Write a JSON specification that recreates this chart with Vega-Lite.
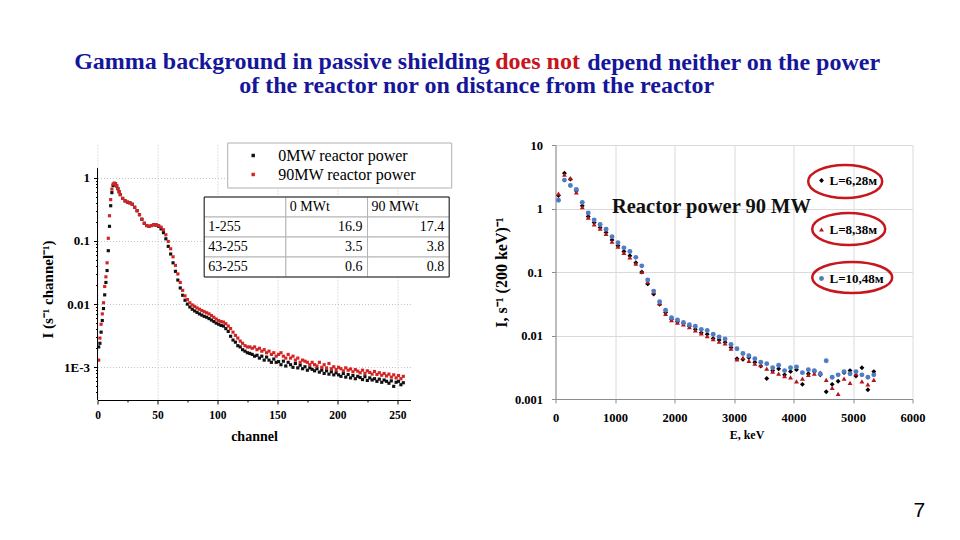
{
  "$schema": "https://vega.github.io/schema/vega-lite/v6.json",
  "background": "white",
  "padding": {"left": 40.5, "top": 49, "right": 0, "bottom": 0},
  "config": {"view": {"stroke": null}, "font": "Liberation Serif"},
  "datasets": {
    "left": [
      {"p":"0MW","ch":1,"v":0.0021},{"p":"0MW","ch":2,"v":0.0024},{"p":"0MW","ch":3,"v":0.0036},{"p":"0MW","ch":4,"v":0.0055},{"p":"0MW","ch":5,"v":0.0085},{"p":"0MW","ch":6,"v":0.014},{"p":"0MW","ch":7,"v":0.022},{"p":"0MW","ch":8,"v":0.034},{"p":"0MW","ch":9,"v":0.07},{"p":"0MW","ch":10,"v":0.17},{"p":"0MW","ch":11,"v":0.36},{"p":"0MW","ch":12,"v":0.58},{"p":"0MW","ch":13,"v":0.75},{"p":"0MW","ch":14,"v":0.81},{"p":"0MW","ch":15,"v":0.8},{"p":"0MW","ch":16,"v":0.74},{"p":"0MW","ch":17,"v":0.67},{"p":"0MW","ch":18,"v":0.6},{"p":"0MW","ch":19,"v":0.54},
      {"p":"0MW","ch":21,"v":0.47},{"p":"0MW","ch":23,"v":0.43},{"p":"0MW","ch":25,"v":0.41},{"p":"0MW","ch":27,"v":0.4},{"p":"0MW","ch":29,"v":0.38},{"p":"0MW","ch":31,"v":0.34},{"p":"0MW","ch":33,"v":0.3},{"p":"0MW","ch":35,"v":0.26},{"p":"0MW","ch":37,"v":0.22},{"p":"0MW","ch":39,"v":0.19},{"p":"0MW","ch":41,"v":0.175},{"p":"0MW","ch":43,"v":0.17},{"p":"0MW","ch":45,"v":0.175},{"p":"0MW","ch":47,"v":0.18},{"p":"0MW","ch":49,"v":0.178},{"p":"0MW","ch":51,"v":0.17},{"p":"0MW","ch":53,"v":0.155},{"p":"0MW","ch":55,"v":0.135},{"p":"0MW","ch":57,"v":0.108},{"p":"0MW","ch":59,"v":0.082},{"p":"0MW","ch":61,"v":0.062},{"p":"0MW","ch":63,"v":0.045},{"p":"0MW","ch":65,"v":0.033},{"p":"0MW","ch":67,"v":0.024},{"p":"0MW","ch":69,"v":0.018},{"p":"0MW","ch":71,"v":0.0138},{"p":"0MW","ch":73,"v":0.0115},{"p":"0MW","ch":75,"v":0.01},{"p":"0MW","ch":77,"v":0.009},{"p":"0MW","ch":79,"v":0.0083},{"p":"0MW","ch":81,"v":0.0078},{"p":"0MW","ch":83,"v":0.0074},{"p":"0MW","ch":85,"v":0.007},{"p":"0MW","ch":87,"v":0.0067},{"p":"0MW","ch":89,"v":0.0064},{"p":"0MW","ch":91,"v":0.0062},{"p":"0MW","ch":93,"v":0.0059},{"p":"0MW","ch":95,"v":0.0056},{"p":"0MW","ch":97,"v":0.0053},{"p":"0MW","ch":99,"v":0.005},{"p":"0MW","ch":101,"v":0.0048},{"p":"0MW","ch":103,"v":0.0046},{"p":"0MW","ch":105,"v":0.0045},{"p":"0MW","ch":107,"v":0.0041},{"p":"0MW","ch":109,"v":0.0037},{"p":"0MW","ch":111,"v":0.0031},{"p":"0MW","ch":113,"v":0.0027},{"p":"0MW","ch":115,"v":0.0025},{"p":"0MW","ch":117,"v":0.0022},{"p":"0MW","ch":119,"v":0.0021},{"p":"0MW","ch":121,"v":0.0019},{"p":"0MW","ch":123,"v":0.0018},{"p":"0MW","ch":125,"v":0.0017},
      {"p":"0MW","ch":127,"v":0.00166},{"p":"0MW","ch":129,"v":0.0016},{"p":"0MW","ch":131,"v":0.0015},{"p":"0MW","ch":133,"v":0.00155},{"p":"0MW","ch":135,"v":0.0014},{"p":"0MW","ch":137,"v":0.0015},{"p":"0MW","ch":139,"v":0.0013},{"p":"0MW","ch":141,"v":0.00145},{"p":"0MW","ch":143,"v":0.0013},{"p":"0MW","ch":145,"v":0.0012},{"p":"0MW","ch":147,"v":0.00135},{"p":"0MW","ch":149,"v":0.0012},{"p":"0MW","ch":151,"v":0.00123},{"p":"0MW","ch":153,"v":0.0011},{"p":"0MW","ch":155,"v":0.00125},{"p":"0MW","ch":157,"v":0.00105},{"p":"0MW","ch":159,"v":0.0012},{"p":"0MW","ch":161,"v":0.0011},{"p":"0MW","ch":163,"v":0.001},{"p":"0MW","ch":165,"v":0.00115},{"p":"0MW","ch":167,"v":0.00098},{"p":"0MW","ch":169,"v":0.00108},{"p":"0MW","ch":171,"v":0.00095},{"p":"0MW","ch":173,"v":0.00102},{"p":"0MW","ch":175,"v":0.0009},{"p":"0MW","ch":177,"v":0.00098},{"p":"0MW","ch":179,"v":0.00093},{"p":"0MW","ch":181,"v":0.00088},{"p":"0MW","ch":183,"v":0.00095},{"p":"0MW","ch":185,"v":0.00084},{"p":"0MW","ch":187,"v":0.0009},{"p":"0MW","ch":189,"v":0.0008},{"p":"0MW","ch":191,"v":0.00088},{"p":"0MW","ch":193,"v":0.00078},{"p":"0MW","ch":195,"v":0.00085},{"p":"0MW","ch":197,"v":0.00076},{"p":"0MW","ch":199,"v":0.00082},{"p":"0MW","ch":201,"v":0.00076},{"p":"0MW","ch":203,"v":0.00072},{"p":"0MW","ch":205,"v":0.0008},{"p":"0MW","ch":207,"v":0.0007},{"p":"0MW","ch":209,"v":0.00077},{"p":"0MW","ch":211,"v":0.00068},{"p":"0MW","ch":213,"v":0.00074},{"p":"0MW","ch":215,"v":0.00066},{"p":"0MW","ch":217,"v":0.00072},{"p":"0MW","ch":219,"v":0.00069},{"p":"0MW","ch":221,"v":0.00064},{"p":"0MW","ch":223,"v":0.00071},{"p":"0MW","ch":225,"v":0.00062},{"p":"0MW","ch":227,"v":0.00068},{"p":"0MW","ch":229,"v":0.00063},{"p":"0MW","ch":231,"v":0.00066},{"p":"0MW","ch":233,"v":0.0006},{"p":"0MW","ch":235,"v":0.00065},{"p":"0MW","ch":237,"v":0.00058},{"p":"0MW","ch":239,"v":0.00063},{"p":"0MW","ch":241,"v":0.0006},{"p":"0MW","ch":243,"v":0.00056},{"p":"0MW","ch":245,"v":0.00061},{"p":"0MW","ch":247,"v":0.0005},{"p":"0MW","ch":249,"v":0.00058},{"p":"0MW","ch":251,"v":0.0006},{"p":"0MW","ch":253,"v":0.00053},{"p":"0MW","ch":255,"v":0.00057},
      {"p":"90MW","ch":1,"v":0.0013},{"p":"90MW","ch":2,"v":0.0029},{"p":"90MW","ch":3,"v":0.0048},{"p":"90MW","ch":4,"v":0.007},{"p":"90MW","ch":5,"v":0.0105},{"p":"90MW","ch":6,"v":0.019},{"p":"90MW","ch":7,"v":0.027},{"p":"90MW","ch":8,"v":0.045},{"p":"90MW","ch":9,"v":0.11},{"p":"90MW","ch":10,"v":0.25},{"p":"90MW","ch":11,"v":0.45},{"p":"90MW","ch":12,"v":0.66},{"p":"90MW","ch":13,"v":0.79},{"p":"90MW","ch":14,"v":0.82},{"p":"90MW","ch":15,"v":0.8},{"p":"90MW","ch":16,"v":0.74},{"p":"90MW","ch":17,"v":0.67},{"p":"90MW","ch":18,"v":0.6},{"p":"90MW","ch":19,"v":0.54},
      {"p":"90MW","ch":21,"v":0.47},{"p":"90MW","ch":23,"v":0.43},{"p":"90MW","ch":25,"v":0.41},{"p":"90MW","ch":27,"v":0.4},{"p":"90MW","ch":29,"v":0.38},{"p":"90MW","ch":31,"v":0.34},{"p":"90MW","ch":33,"v":0.3},{"p":"90MW","ch":35,"v":0.26},{"p":"90MW","ch":37,"v":0.22},{"p":"90MW","ch":39,"v":0.19},{"p":"90MW","ch":41,"v":0.175},{"p":"90MW","ch":43,"v":0.17},{"p":"90MW","ch":45,"v":0.175},{"p":"90MW","ch":47,"v":0.18},{"p":"90MW","ch":49,"v":0.18},{"p":"90MW","ch":51,"v":0.175},{"p":"90MW","ch":53,"v":0.165},{"p":"90MW","ch":55,"v":0.15},{"p":"90MW","ch":57,"v":0.125},{"p":"90MW","ch":59,"v":0.098},{"p":"90MW","ch":61,"v":0.075},{"p":"90MW","ch":63,"v":0.056},{"p":"90MW","ch":65,"v":0.041},{"p":"90MW","ch":67,"v":0.03},{"p":"90MW","ch":69,"v":0.022},{"p":"90MW","ch":71,"v":0.0165},{"p":"90MW","ch":73,"v":0.0135},{"p":"90MW","ch":75,"v":0.0118},{"p":"90MW","ch":77,"v":0.0105},{"p":"90MW","ch":79,"v":0.0097},{"p":"90MW","ch":81,"v":0.0092},{"p":"90MW","ch":83,"v":0.0087},{"p":"90MW","ch":85,"v":0.0083},{"p":"90MW","ch":87,"v":0.0079},{"p":"90MW","ch":89,"v":0.0076},{"p":"90MW","ch":91,"v":0.0073},{"p":"90MW","ch":93,"v":0.007},{"p":"90MW","ch":95,"v":0.0066},{"p":"90MW","ch":97,"v":0.0062},{"p":"90MW","ch":99,"v":0.0058},{"p":"90MW","ch":101,"v":0.0055},{"p":"90MW","ch":103,"v":0.0053},{"p":"90MW","ch":105,"v":0.0052},{"p":"90MW","ch":107,"v":0.0049},{"p":"90MW","ch":109,"v":0.0045},{"p":"90MW","ch":111,"v":0.0041},{"p":"90MW","ch":113,"v":0.0036},{"p":"90MW","ch":115,"v":0.0032},{"p":"90MW","ch":117,"v":0.0029},{"p":"90MW","ch":119,"v":0.0026},{"p":"90MW","ch":121,"v":0.0024},{"p":"90MW","ch":123,"v":0.0022},{"p":"90MW","ch":125,"v":0.0021},
      {"p":"90MW","ch":127,"v":0.0021},{"p":"90MW","ch":129,"v":0.002},{"p":"90MW","ch":131,"v":0.0021},{"p":"90MW","ch":133,"v":0.0019},{"p":"90MW","ch":135,"v":0.002},{"p":"90MW","ch":137,"v":0.0018},{"p":"90MW","ch":139,"v":0.0019},{"p":"90MW","ch":141,"v":0.0017},{"p":"90MW","ch":143,"v":0.0018},{"p":"90MW","ch":145,"v":0.0016},{"p":"90MW","ch":147,"v":0.0017},{"p":"90MW","ch":149,"v":0.0015},{"p":"90MW","ch":151,"v":0.0016},{"p":"90MW","ch":153,"v":0.0017},{"p":"90MW","ch":155,"v":0.0015},{"p":"90MW","ch":157,"v":0.0014},{"p":"90MW","ch":159,"v":0.0016},{"p":"90MW","ch":161,"v":0.0014},{"p":"90MW","ch":163,"v":0.0015},{"p":"90MW","ch":165,"v":0.0013},{"p":"90MW","ch":167,"v":0.0014},{"p":"90MW","ch":169,"v":0.0012},{"p":"90MW","ch":171,"v":0.0013},{"p":"90MW","ch":173,"v":0.00125},{"p":"90MW","ch":175,"v":0.0012},{"p":"90MW","ch":177,"v":0.0011},{"p":"90MW","ch":179,"v":0.0012},{"p":"90MW","ch":181,"v":0.0011},{"p":"90MW","ch":183,"v":0.00105},{"p":"90MW","ch":185,"v":0.0012},{"p":"90MW","ch":187,"v":0.001},{"p":"90MW","ch":189,"v":0.0011},{"p":"90MW","ch":191,"v":0.00098},{"p":"90MW","ch":193,"v":0.00115},{"p":"90MW","ch":195,"v":0.00095},{"p":"90MW","ch":197,"v":0.00102},{"p":"90MW","ch":199,"v":0.00092},{"p":"90MW","ch":201,"v":0.001},{"p":"90MW","ch":203,"v":0.00095},{"p":"90MW","ch":205,"v":0.00088},{"p":"90MW","ch":207,"v":0.00098},{"p":"90MW","ch":209,"v":0.0009},{"p":"90MW","ch":211,"v":0.00094},{"p":"90MW","ch":213,"v":0.00085},{"p":"90MW","ch":215,"v":0.00092},{"p":"90MW","ch":217,"v":0.00087},{"p":"90MW","ch":219,"v":0.00082},{"p":"90MW","ch":221,"v":0.0009},{"p":"90MW","ch":223,"v":0.0008},{"p":"90MW","ch":225,"v":0.00088},{"p":"90MW","ch":227,"v":0.00083},{"p":"90MW","ch":229,"v":0.00078},{"p":"90MW","ch":231,"v":0.00086},{"p":"90MW","ch":233,"v":0.00077},{"p":"90MW","ch":235,"v":0.00082},{"p":"90MW","ch":237,"v":0.00075},{"p":"90MW","ch":239,"v":0.0008},{"p":"90MW","ch":241,"v":0.00073},{"p":"90MW","ch":243,"v":0.00078},{"p":"90MW","ch":245,"v":0.0007},{"p":"90MW","ch":247,"v":0.00076},{"p":"90MW","ch":249,"v":0.00068},{"p":"90MW","ch":251,"v":0.00074},{"p":"90MW","ch":253,"v":0.00066},{"p":"90MW","ch":255,"v":0.00072}
    ],
    "right": [
      {"L":"L=6,28м","E":50,"I":1.6},{"L":"L=6,28м","E":150,"I":3.6},{"L":"L=6,28м","E":250,"I":2.9},{"L":"L=6,28м","E":350,"I":1.9},{"L":"L=6,28м","E":450,"I":1.1},{"L":"L=6,28м","E":550,"I":0.75},{"L":"L=6,28м","E":650,"I":0.6},{"L":"L=6,28м","E":750,"I":0.5},{"L":"L=6,28м","E":850,"I":0.42},{"L":"L=6,28м","E":950,"I":0.32},{"L":"L=6,28м","E":1050,"I":0.26},{"L":"L=6,28м","E":1150,"I":0.21},{"L":"L=6,28м","E":1250,"I":0.18},{"L":"L=6,28м","E":1350,"I":0.14},{"L":"L=6,28м","E":1450,"I":0.1},{"L":"L=6,28м","E":1550,"I":0.065},{"L":"L=6,28м","E":1650,"I":0.045},{"L":"L=6,28м","E":1750,"I":0.031},{"L":"L=6,28м","E":1850,"I":0.023},{"L":"L=6,28м","E":1950,"I":0.018},{"L":"L=6,28м","E":2050,"I":0.0165},{"L":"L=6,28м","E":2150,"I":0.0155},{"L":"L=6,28м","E":2250,"I":0.014},{"L":"L=6,28м","E":2350,"I":0.0125},{"L":"L=6,28м","E":2450,"I":0.011},{"L":"L=6,28м","E":2550,"I":0.0105},{"L":"L=6,28м","E":2650,"I":0.009},{"L":"L=6,28м","E":2750,"I":0.0085},{"L":"L=6,28м","E":2850,"I":0.0078},{"L":"L=6,28м","E":2950,"I":0.0065},{"L":"L=6,28м","E":3050,"I":0.0043},{"L":"L=6,28м","E":3150,"I":0.0042},{"L":"L=6,28м","E":3250,"I":0.0045},{"L":"L=6,28м","E":3350,"I":0.0038},{"L":"L=6,28м","E":3450,"I":0.0033},{"L":"L=6,28м","E":3550,"I":0.0021},{"L":"L=6,28м","E":3650,"I":0.0028},{"L":"L=6,28м","E":3750,"I":0.003},{"L":"L=6,28м","E":3850,"I":0.0024},{"L":"L=6,28м","E":3950,"I":0.0027},{"L":"L=6,28м","E":4050,"I":0.0029},{"L":"L=6,28м","E":4150,"I":0.0017},{"L":"L=6,28м","E":4250,"I":0.0025},{"L":"L=6,28м","E":4350,"I":0.0027},{"L":"L=6,28м","E":4450,"I":0.0024},{"L":"L=6,28м","E":4550,"I":0.0013},{"L":"L=6,28м","E":4650,"I":0.0017},{"L":"L=6,28м","E":4750,"I":0.0019},{"L":"L=6,28м","E":4850,"I":0.0026},{"L":"L=6,28м","E":4950,"I":0.0028},{"L":"L=6,28м","E":5050,"I":0.0023},{"L":"L=6,28м","E":5150,"I":0.0031},{"L":"L=6,28м","E":5250,"I":0.0014},{"L":"L=6,28м","E":5350,"I":0.0027},
      {"L":"L=8,38м","E":50,"I":1.72},{"L":"L=8,38м","E":150,"I":3.4},{"L":"L=8,38м","E":250,"I":3.0},{"L":"L=8,38м","E":350,"I":1.8},{"L":"L=8,38м","E":450,"I":1.05},{"L":"L=8,38м","E":550,"I":0.72},{"L":"L=8,38м","E":650,"I":0.56},{"L":"L=8,38м","E":750,"I":0.48},{"L":"L=8,38м","E":850,"I":0.4},{"L":"L=8,38м","E":950,"I":0.3},{"L":"L=8,38м","E":1050,"I":0.25},{"L":"L=8,38м","E":1150,"I":0.2},{"L":"L=8,38м","E":1250,"I":0.17},{"L":"L=8,38м","E":1350,"I":0.135},{"L":"L=8,38м","E":1450,"I":0.1},{"L":"L=8,38м","E":1550,"I":0.07},{"L":"L=8,38м","E":1650,"I":0.048},{"L":"L=8,38м","E":1750,"I":0.032},{"L":"L=8,38м","E":1850,"I":0.022},{"L":"L=8,38м","E":1950,"I":0.0175},{"L":"L=8,38м","E":2050,"I":0.016},{"L":"L=8,38м","E":2150,"I":0.015},{"L":"L=8,38м","E":2250,"I":0.0135},{"L":"L=8,38м","E":2350,"I":0.012},{"L":"L=8,38м","E":2450,"I":0.0108},{"L":"L=8,38м","E":2550,"I":0.0098},{"L":"L=8,38м","E":2650,"I":0.0088},{"L":"L=8,38м","E":2750,"I":0.008},{"L":"L=8,38м","E":2850,"I":0.0075},{"L":"L=8,38м","E":2950,"I":0.0062},{"L":"L=8,38м","E":3050,"I":0.0042},{"L":"L=8,38м","E":3150,"I":0.0045},{"L":"L=8,38м","E":3250,"I":0.004},{"L":"L=8,38м","E":3350,"I":0.0036},{"L":"L=8,38м","E":3450,"I":0.0034},{"L":"L=8,38м","E":3550,"I":0.003},{"L":"L=8,38м","E":3650,"I":0.0027},{"L":"L=8,38м","E":3750,"I":0.0025},{"L":"L=8,38м","E":3850,"I":0.0023},{"L":"L=8,38м","E":3950,"I":0.0022},{"L":"L=8,38м","E":4050,"I":0.0019},{"L":"L=8,38м","E":4150,"I":0.0021},{"L":"L=8,38м","E":4250,"I":0.0024},{"L":"L=8,38м","E":4350,"I":0.0025},{"L":"L=8,38м","E":4450,"I":0.0026},{"L":"L=8,38м","E":4550,"I":0.002},{"L":"L=8,38м","E":4650,"I":0.0015},{"L":"L=8,38м","E":4750,"I":0.0012},{"L":"L=8,38м","E":4850,"I":0.0021},{"L":"L=8,38м","E":4950,"I":0.0018},{"L":"L=8,38м","E":5050,"I":0.0025},{"L":"L=8,38м","E":5150,"I":0.0019},{"L":"L=8,38м","E":5250,"I":0.0017},{"L":"L=8,38м","E":5350,"I":0.002},
      {"L":"L=10,48м","E":50,"I":1.35},{"L":"L=10,48м","E":150,"I":2.8},{"L":"L=10,48м","E":250,"I":2.3},{"L":"L=10,48м","E":350,"I":2.0},{"L":"L=10,48м","E":450,"I":1.25},{"L":"L=10,48м","E":550,"I":0.85},{"L":"L=10,48м","E":650,"I":0.66},{"L":"L=10,48м","E":750,"I":0.56},{"L":"L=10,48м","E":850,"I":0.47},{"L":"L=10,48м","E":950,"I":0.36},{"L":"L=10,48м","E":1050,"I":0.29},{"L":"L=10,48м","E":1150,"I":0.24},{"L":"L=10,48м","E":1250,"I":0.21},{"L":"L=10,48м","E":1350,"I":0.17},{"L":"L=10,48м","E":1450,"I":0.125},{"L":"L=10,48м","E":1550,"I":0.075},{"L":"L=10,48м","E":1650,"I":0.05},{"L":"L=10,48м","E":1750,"I":0.034},{"L":"L=10,48м","E":1850,"I":0.025},{"L":"L=10,48м","E":1950,"I":0.019},{"L":"L=10,48м","E":2050,"I":0.0175},{"L":"L=10,48м","E":2150,"I":0.016},{"L":"L=10,48м","E":2250,"I":0.0148},{"L":"L=10,48м","E":2350,"I":0.014},{"L":"L=10,48м","E":2450,"I":0.0125},{"L":"L=10,48м","E":2550,"I":0.012},{"L":"L=10,48м","E":2650,"I":0.0105},{"L":"L=10,48м","E":2750,"I":0.0095},{"L":"L=10,48м","E":2850,"I":0.0088},{"L":"L=10,48м","E":2950,"I":0.0072},{"L":"L=10,48м","E":3050,"I":0.0062},{"L":"L=10,48м","E":3150,"I":0.0052},{"L":"L=10,48м","E":3250,"I":0.0048},{"L":"L=10,48м","E":3350,"I":0.0043},{"L":"L=10,48м","E":3450,"I":0.0038},{"L":"L=10,48м","E":3550,"I":0.0036},{"L":"L=10,48м","E":3650,"I":0.0031},{"L":"L=10,48м","E":3750,"I":0.0034},{"L":"L=10,48м","E":3850,"I":0.0028},{"L":"L=10,48м","E":3950,"I":0.0031},{"L":"L=10,48м","E":4050,"I":0.0032},{"L":"L=10,48м","E":4150,"I":0.0026},{"L":"L=10,48м","E":4250,"I":0.0029},{"L":"L=10,48м","E":4350,"I":0.0028},{"L":"L=10,48м","E":4450,"I":0.0025},{"L":"L=10,48м","E":4550,"I":0.004},{"L":"L=10,48м","E":4650,"I":0.0022},{"L":"L=10,48м","E":4750,"I":0.0024},{"L":"L=10,48м","E":4850,"I":0.0027},{"L":"L=10,48м","E":4950,"I":0.0025},{"L":"L=10,48м","E":5050,"I":0.0027},{"L":"L=10,48м","E":5150,"I":0.0024},{"L":"L=10,48м","E":5250,"I":0.0022},{"L":"L=10,48м","E":5350,"I":0.0024}
    ],
    "table": [
      {"r":"h","c":"a","t":""},{"r":"h","c":"b","t":"0 MWt"},{"r":"h","c":"c","t":"90 MWt"},
      {"r":"1","c":"a","t":"1-255"},{"r":"1","c":"b","t":"16.9"},{"r":"1","c":"c","t":"17.4"},
      {"r":"2","c":"a","t":"43-255"},{"r":"2","c":"b","t":"3.5"},{"r":"2","c":"c","t":"3.8"},
      {"r":"3","c":"a","t":"63-255"},{"r":"3","c":"b","t":"0.6"},{"r":"3","c":"c","t":"0.8"}
    ]
  },
  "title": {"text": "of the reactor nor on distance from the reactor", "anchor": "start", "frame": "group", "dx": 141.7, "dy": 67, "offset": 0, "baseline": "alphabetic", "color": "#16169a", "font": "Liberation Serif", "fontSize": 24, "fontWeight": "bold"},
  "spacing": 145,
  "bounds": "flush",
  "resolve": {"scale": {"color": "independent", "shape": "independent"}, "legend": {"color": "independent", "shape": "independent"}},
  "hconcat": [
    {
      "width": 313,
      "height": 255,
      "title": {"text": "Gamma background in passive shielding", "anchor": "start", "frame": "group", "dx": -23.3, "dy": -49.5, "offset": 0, "baseline": "alphabetic", "color": "#16169a", "font": "Liberation Serif", "fontSize": 24, "fontWeight": "bold"},
      "layer": [
        {
          "data": {"name": "left"},
          "mark": {"type": "square", "size": 10, "opacity": 1},
          "encoding": {
            "x": {"field": "ch", "type": "quantitative",
              "scale": {"domain": [0, 261], "nice": false, "zero": false},
              "axis": {"values": [0,25,50,75,100,125,150,175,200,225,250], "format": "d",
                "labelExpr": "datum.value % 50 == 0 ? datum.label : ''",
                "title": "channel", "titleFont": "Liberation Serif", "titleFontSize": 14, "titleFontWeight": "bold", "titleColor": "black", "titlePadding": 9,
                "labelFont": "Liberation Serif", "labelFontSize": 11.5, "labelFontWeight": "bold", "labelColor": "black", "labelPadding": 5, "labelOverlap": false, "labelFlush": false,
                "tickColor": "black", "tickSize": {"condition": {"test": "datum.value % 50 != 0", "value": 2}, "value": 4},
                "domainColor": "black", "grid": true, "gridColor": "#c4c4c4", "gridDash": [1, 2],
                "gridOpacity": {"condition": {"test": "datum.value % 50 != 0", "value": 0}, "value": 1}}},
            "y": {"field": "v", "type": "quantitative",
              "scale": {"type": "log", "domain": [0.000304, 3.29], "nice": false},
              "axis": {"values": [0.0004,0.0005,0.0006,0.0007,0.0008,0.0009,0.001,0.002,0.003,0.004,0.005,0.006,0.007,0.008,0.009,0.01,0.02,0.03,0.04,0.05,0.06,0.07,0.08,0.09,0.1,0.2,0.3,0.4,0.5,0.6,0.7,0.8,0.9,1],
                "labelExpr": "abs(log(datum.value)/LN10 - round(log(datum.value)/LN10)) < 0.001 ? (datum.value < 0.005 ? '1E-3' : format(datum.value, '~g')) : ''",
                "title": "I (s⁻¹ channel⁻¹)", "titleY": 144, "titleFont": "Liberation Serif", "titleFontSize": 15, "titleFontWeight": "bold", "titleColor": "black", "titlePadding": 8,
                "labelFont": "Liberation Serif", "labelFontSize": 13, "labelFontWeight": "bold", "labelColor": "black", "labelPadding": 4, "labelOverlap": false,
                "domain": false, "tickColor": "black",
                "tickSize": {"condition": {"test": "abs(log(datum.value)/LN10 - round(log(datum.value)/LN10)) > 0.001", "value": 2}, "value": 4},
                "grid": true, "gridColor": "#c4c4c4", "gridDash": [1, 2],
                "gridOpacity": {"condition": {"test": "abs(log(datum.value)/LN10 - round(log(datum.value)/LN10)) > 0.001", "value": 0}, "value": 1}}},
            "color": {"field": "p", "type": "nominal",
              "scale": {"domain": ["0MW", "90MW"], "range": ["#111111", "#d42424"]},
              "legend": {"orient": "none", "legendX": 129.7, "legendY": -2.5, "direction": "vertical",
                "title": ".", "titleOrient": "right", "titlePadding": 27, "titleColor": "white", "titleFontSize": 10,
                "fillColor": "white", "strokeColor": "#b0b0b0", "padding": 5,
                "symbolType": "square", "symbolSize": 12, "symbolStrokeWidth": 0, "symbolOffset": 13,
                "labelOffset": 17, "labelFont": "Liberation Serif", "labelFontSize": 16, "labelColor": "black", "labelLimit": 400,
                "labelExpr": "datum.label + ' reactor power'", "rowPadding": 3}}
          }
        },
        {
          "data": {"values": [{}]},
          "mark": {"type": "rule", "color": "black", "strokeWidth": 1},
          "encoding": {
            "x": {"datum": 0, "scale": {"domain": [0, 261], "nice": false, "zero": false}, "axis": null},
            "y": {"datum": 1.42, "scale": {"type": "log", "domain": [0.000304, 3.29], "nice": false}, "axis": null},
            "y2": {"datum": 0.000304}
          }
        },
        {
          "data": {"name": "table"},
          "mark": {"type": "rect", "fill": "white", "stroke": "#b4b4b4", "strokeWidth": 1},
          "encoding": {
            "x": {"field": "c", "type": "nominal", "scale": {"type": "band", "domain": ["a","b","c"], "range": [106.7, 351.7], "paddingInner": 0, "paddingOuter": 0}, "axis": null},
            "y": {"field": "r", "type": "nominal", "scale": {"type": "band", "domain": ["h","1","2","3"], "range": [52, 132], "paddingInner": 0, "paddingOuter": 0}, "axis": null}
          }
        },
        {
          "data": {"values": [{}]},
          "mark": {"type": "rect", "fill": null, "fillOpacity": 0, "stroke": "#222222", "strokeWidth": 1},
          "encoding": {
            "x": {"datum": 0, "scale": {"domain": [0, 1], "range": [106.7, 351.7]}, "axis": null},
            "x2": {"datum": 1},
            "y": {"datum": 0, "scale": {"domain": [0, 1], "range": [52, 132]}, "axis": null},
            "y2": {"datum": 1}
          }
        },
        {
          "data": {"name": "table"},
          "transform": [{"filter": "datum.c == 'a' || datum.r == 'h'"}],
          "mark": {"type": "text", "align": "left", "baseline": "middle", "dx": 4, "font": "Liberation Serif", "fontSize": 14, "color": "black"},
          "encoding": {
            "x": {"field": "c", "type": "nominal", "bandPosition": 0, "scale": {"type": "band", "domain": ["a","b","c"], "range": [106.7, 351.7], "paddingInner": 0, "paddingOuter": 0}, "axis": null},
            "y": {"field": "r", "type": "nominal", "bandPosition": 0.5, "scale": {"type": "band", "domain": ["h","1","2","3"], "range": [52, 132], "paddingInner": 0, "paddingOuter": 0}, "axis": null},
            "text": {"field": "t"}
          }
        },
        {
          "data": {"name": "table"},
          "transform": [{"filter": "datum.c != 'a' && datum.r != 'h'"}],
          "mark": {"type": "text", "align": "right", "baseline": "middle", "dx": -5, "font": "Liberation Serif", "fontSize": 14, "color": "black"},
          "encoding": {
            "x": {"field": "c", "type": "nominal", "bandPosition": 1, "scale": {"type": "band", "domain": ["a","b","c"], "range": [106.7, 351.7], "paddingInner": 0, "paddingOuter": 0}, "axis": null},
            "y": {"field": "r", "type": "nominal", "bandPosition": 0.5, "scale": {"type": "band", "domain": ["h","1","2","3"], "range": [52, 132], "paddingInner": 0, "paddingOuter": 0}, "axis": null},
            "text": {"field": "t"}
          }
        }
      ],
      "resolve": {"scale": {"x": "independent", "y": "independent"}}
    },
    {
      "spacing": 0,
      "bounds": "flush",
      "resolve": {"scale": {"color": "independent", "shape": "independent"}, "legend": {"color": "independent", "shape": "independent"}},
      "hconcat": [
        {
          "width": 357,
          "height": 254,
          "title": {"text": "depend neither on the power", "anchor": "start", "frame": "group", "dx": 31.7, "dy": -45.5, "offset": 0, "baseline": "alphabetic", "color": "#16169a", "font": "Liberation Serif", "fontSize": 24, "fontWeight": "bold"},
          "layer": [
            {
              "data": {"name": "right"},
              "mark": {"type": "point", "filled": true, "size": 24, "opacity": 1},
              "encoding": {
                "x": {"field": "E", "type": "quantitative",
                  "scale": {"domain": [0, 6000], "nice": false},
                  "axis": {"values": [0,1000,2000,3000,4000,5000,6000], "format": "d", "title": "E, keV", "titleX": 191,
                    "titleFont": "Liberation Serif", "titleFontSize": 12, "titleFontWeight": "bold", "titleColor": "black", "titlePadding": 6,
                    "labelFont": "Liberation Serif", "labelFontSize": 12.5, "labelFontWeight": "bold", "labelColor": "black", "labelPadding": 8, "labelOverlap": false, "labelFlush": false,
                    "tickSize": 4, "tickColor": "#8c8c8c", "domainColor": "#8c8c8c", "grid": true, "gridColor": "#dadada"}},
                "y": {"field": "I", "type": "quantitative",
                  "scale": {"type": "log", "domain": [0.001, 10], "nice": false},
                  "axis": {"values": [0.001, 0.01, 0.1, 1, 10], "format": "~g", "title": "I, s⁻¹ (200 keV)⁻¹",
                    "titleFont": "Liberation Serif", "titleFontSize": 16, "titleFontWeight": "bold", "titleColor": "black", "titlePadding": 5,
                    "labelFont": "Liberation Serif", "labelFontSize": 12.5, "labelFontWeight": "bold", "labelColor": "black", "labelPadding": 9, "labelOverlap": false,
                    "tickSize": 4, "tickColor": "#8c8c8c", "domainColor": "#8c8c8c", "grid": true, "gridColor": "#dadada"}},
                "color": {"field": "L", "type": "nominal",
                  "scale": {"domain": ["L=6,28м", "L=8,38м", "L=10,48м"], "range": ["#000000", "#b3151c", "#4f7cc4"]},
                  "legend": {"orient": "none", "legendX": 259.5, "legendY": 29, "title": null, "padding": 0, "direction": "vertical",
                    "symbolSize": 24, "symbolStrokeWidth": 0, "labelOffset": 1.5,
                    "labelFont": "Liberation Serif", "labelFontSize": 13, "labelFontWeight": "bold", "labelColor": "black", "rowPadding": 35}},
                "shape": {"field": "L", "type": "nominal",
                  "scale": {"domain": ["L=6,28м", "L=8,38м", "L=10,48м"], "range": ["diamond", "triangle-up", "circle"]}}
              }
            },
            {
              "data": {"values": [{}]},
              "mark": {"type": "text", "text": "Reactor power 90 MW", "align": "left", "baseline": "alphabetic", "font": "Liberation Serif", "fontSize": 20.5, "fontWeight": "bold", "color": "#111111"},
              "encoding": {"x": {"datum": 948}, "y": {"datum": 0.84}}
            },
            {
              "data": {"values": [{}]},
              "mark": {"type": "point", "shape": "M -1 0 C -1 -0.2463 -0.5523 -0.446 0 -0.446 C 0.5523 -0.446 1 -0.2463 1 0 C 1 0.2463 0.5523 0.446 0 0.446 C -0.5523 0.446 -1 0.2463 -1 0 Z", "size": 5476, "filled": false, "stroke": "#c8161d", "strokeWidth": 2.5, "opacity": 1},
              "encoding": {"x": {"datum": 4869}, "y": {"datum": 2.662}}
            },
            {
              "data": {"values": [{}]},
              "mark": {"type": "point", "shape": "M -1 0 C -1 -0.2419 -0.5523 -0.438 0 -0.438 C 0.5523 -0.438 1 -0.2419 1 0 C 1 0.2419 0.5523 0.438 0 0.438 C -0.5523 0.438 -1 0.2419 -1 0 Z", "size": 5329, "filled": false, "stroke": "#c8161d", "strokeWidth": 2.5, "opacity": 1},
              "encoding": {"x": {"datum": 4928}, "y": {"datum": 0.4755}}
            },
            {
              "data": {"values": [{}]},
              "mark": {"type": "point", "shape": "M -1 0 C -1 -0.2154 -0.5523 -0.39 0 -0.39 C 0.5523 -0.39 1 -0.2154 1 0 C 1 0.2154 0.5523 0.39 0 0.39 C -0.5523 0.39 -1 0.2154 -1 0 Z", "size": 6400, "filled": false, "stroke": "#c8161d", "strokeWidth": 2.5, "opacity": 1},
              "encoding": {"x": {"datum": 4987}, "y": {"datum": 0.0819}}
            }
          ]
        },
        {
          "width": 1,
          "height": 1,
          "data": {"values": [{}]},
          "mark": {"type": "point", "size": 1, "opacity": 0},
          "title": {"text": "does not", "anchor": "start", "frame": "group", "dx": -417.3, "dy": -52, "offset": 0, "baseline": "alphabetic", "color": "#c8141c", "font": "Liberation Serif", "fontSize": 24, "fontWeight": "bold"}
        },
        {
          "width": 1,
          "height": 1,
          "data": {"values": [{}]},
          "mark": {"type": "point", "size": 1, "opacity": 0},
          "title": {"text": "7", "orient": "bottom", "anchor": "start", "frame": "group", "dx": 0, "dy": 371, "offset": 0, "baseline": "alphabetic", "color": "#000000", "font": "Liberation Sans", "fontSize": 21, "fontWeight": "normal"}
        }
      ]
    }
  ]
}
